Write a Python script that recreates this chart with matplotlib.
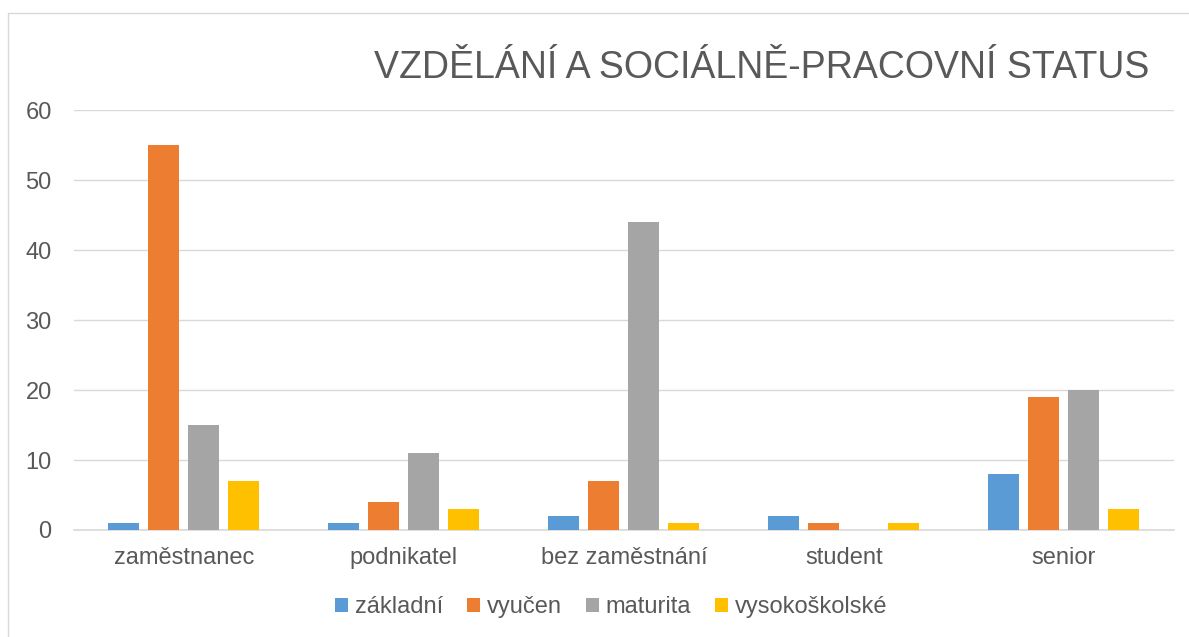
import matplotlib.pyplot as plt
import numpy as np
from matplotlib.patches import Rectangle

plt.rcParams['font.family'] = ['Liberation Sans', 'DejaVu Sans']

categories = ['zaměstnanec', 'podnikatel', 'bez zaměstnání', 'student', 'senior']
series_names = ['základní', 'vyučen', 'maturita', 'vysokoškolské']
zakladni = [1, 1, 2, 2, 8]
vyucen = [55, 4, 7, 1, 19]
maturita = [15, 11, 44, 0, 20]
vysokoskolske = [7, 3, 1, 1, 3]
colors = ['#5b9bd5', '#ed7d31', '#a5a5a5', '#ffc000']

txt = '#595959'
fig = plt.figure(figsize=(11.89, 6.37), dpi=100)
ax = fig.add_axes([0.0622, 0.168, 0.925, 0.659])

x = np.arange(len(categories))
step = 40 / 220
width = 31 / 220
for i, (vals, name) in enumerate(zip([zakladni, vyucen, maturita, vysokoskolske], series_names)):
    ax.bar(x + (i - 1.5) * step, vals, width, color=colors[i], label=name, zorder=3)

ax.set_xlim(-0.5, len(categories) - 0.5)
ax.set_ylim(0, 60)
ax.set_yticks(range(0, 61, 10))
ax.grid(axis='y', color='#d9d9d9', linewidth=1, zorder=0)
for s in ['top', 'right', 'left']:
    ax.spines[s].set_visible(False)
ax.spines['bottom'].set_color('#d9d9d9')
ax.spines['bottom'].set_linewidth(1.2)
ax.set_xticks(x)
ax.set_xticklabels(categories)
ax.tick_params(axis='both', length=0, labelsize=17, colors=txt)
ax.tick_params(axis='x', pad=12)
ax.tick_params(axis='y', pad=16)

fig.text(0.641, 0.893, 'VZDĚLÁNÍ A SOCIÁLNĚ-PRACOVNÍ STATUS', ha='center', va='center',
         fontsize=27, color=txt)

leg = fig.legend(loc='center', bbox_to_anchor=(0.514, 0.047), ncol=4, frameon=False,
                 fontsize=17, handlelength=0.55, handleheight=0.55, handletextpad=0.3,
                 columnspacing=1.0)
for t in leg.get_texts():
    t.set_color(txt)

fig.patches.append(Rectangle((0.007, -0.01), 1.0, 0.99, transform=fig.transFigure,
                             fill=False, edgecolor='#d9d9d9', linewidth=1))

fig.savefig('out.png', dpi=100)
